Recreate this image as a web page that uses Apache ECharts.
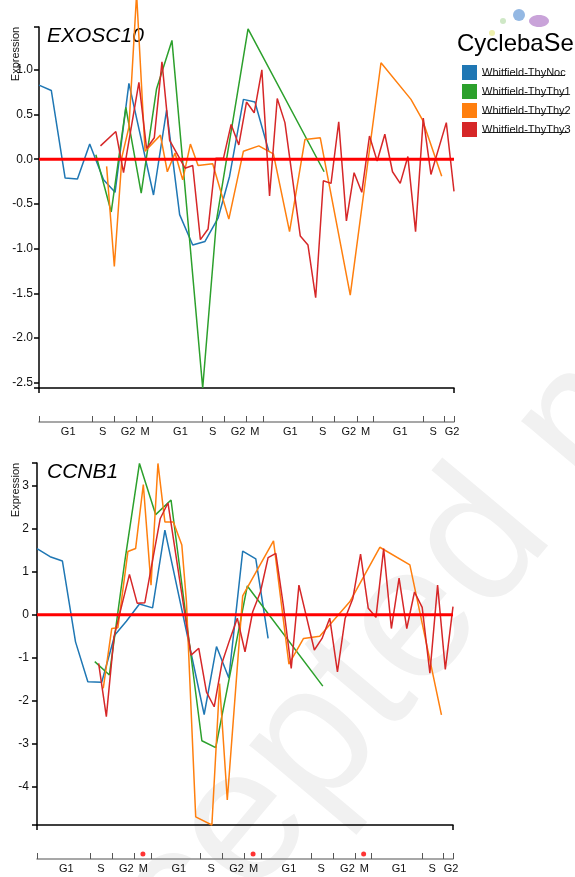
<!DOCTYPE html>
<html>
<head>
<meta charset="utf-8">
<title>Cyclebase - EXOSC10 / CCNB1</title>
<script src="https://cdn.jsdelivr.net/npm/echarts@6.0.0/dist/echarts.min.js"></script>
<style>
  html, body { margin: 0; padding: 0; background: #fff; }
  #chart { width: 575px; height: 877px; }
</style>
</head>
<body>
<div id="chart"></div>
<script>
  // series names and colours
  var seriesNames = ['Whitfield-ThyNoc', 'Whitfield-ThyThy1', 'Whitfield-ThyThy2', 'Whitfield-ThyThy3'];
  var seriesColors = ['#1f77b4', '#2ca02c', '#ff7f0e', '#d62728'];

  // time axis (hours) and cell-cycle phases
  var timeMax = 54;
  var phaseBounds = [0, 6.9, 9.75, 12.65, 14.8, 21.25, 24.05, 26.95, 29.15, 35.6, 38.4, 41.35, 43.45, 49.95, 52.75, 54];
  var phaseLabelT = [3.8, 8.3, 11.6, 13.8, 18.4, 22.6, 25.9, 28.1, 32.7, 36.9, 40.3, 42.5, 47.0, 51.3, 53.75];
  var phaseNames = ['G1', 'S', 'G2', 'M', 'G1', 'S', 'G2', 'M', 'G1', 'S', 'G2', 'M', 'G1', 'S', 'G2'];
  var mitosisMarks = [13.75, 28.05, 42.4];

  // EXOSC10
  var exoMin = -2.56, exoMax = 1.48;
  var exoTicks = [-2.5, -2, -1.5, -1, -0.5, 0, 0.5, 1];
  var exoNocT = [0, 1.6, 3.4, 5.0, 6.6, 8.4, 9.9, 11.7, 14.9, 16.6, 18.3, 20.0, 21.6, 23.3, 24.8, 26.6, 28.1, 29.9];
  var exoNocV = [0.83, 0.77, -0.21, -0.22, 0.17, -0.23, -0.37, 0.85, -0.40, 0.55, -0.62, -0.96, -0.92, -0.66, -0.19, 0.67, 0.64, 0.09];
  var exoThy1T = [7.4, 9.4, 11.3, 13.3, 15.3, 17.3, 21.3, 23.1, 27.2, 37.1];
  var exoThy1V = [0.05, -0.59, 0.58, -0.38, 0.79, 1.33, -2.56, -0.68, 1.46, -0.14];
  var exoThy2T = [8.8, 9.8, 10.8, 11.7, 12.7, 13.8, 15.8, 16.7, 17.7, 18.7, 19.7, 20.7, 22.6, 24.7, 26.6, 28.6, 30.5, 32.6, 34.6, 36.6, 40.5, 44.5, 48.4, 49.9, 52.4];
  var exoThy2V = [-0.08, -1.20, 0.03, 0.36, 1.85, 0.09, 0.27, -0.14, 0.07, -0.23, 0.17, -0.07, -0.05, -0.67, 0.09, 0.15, 0.06, -0.81, 0.22, 0.24, -1.52, 1.08, 0.67, 0.44, -0.19];
  var exoThy3T = [8, 10, 11, 13, 14, 15, 16, 17, 19, 20, 21, 22, 23, 24, 25, 26, 27, 28, 29, 30, 31, 32, 34, 35, 36, 37, 38, 39, 40, 41, 42, 43, 44, 45, 46, 47, 48, 49, 50, 51, 53, 54];
  var exoThy3V = [0.15, 0.31, -0.15, 0.86, 0.12, 0.24, 1.09, 0.21, -0.10, -0.07, -0.90, -0.78, 0.01, 0.01, 0.39, 0.16, 0.64, 0.52, 1.00, -0.41, 0.68, 0.41, -0.86, -0.96, -1.55, -0.24, -0.27, 0.42, -0.69, -0.15, -0.37, 0.26, -0.02, 0.28, -0.14, -0.27, 0.03, -0.81, 0.46, -0.17, 0.41, -0.36];

  // CCNB1
  var ccnMin = -4.89, ccnMax = 3.53;
  var ccnTicks = [-4, -3, -2, -1, 0, 1, 2, 3];
  var ccnNocT = [0, 1.7, 3.3, 5.0, 6.6, 8.4, 10.1, 11.6, 13.3, 15.0, 16.6, 21.7, 23.3, 24.9, 26.7, 28.4, 30.0];
  var ccnNocV = [1.54, 1.35, 1.25, -0.63, -1.56, -1.57, -0.47, -0.15, 0.25, 0.16, 1.97, -2.32, -0.74, -1.47, 1.48, 1.30, -0.55];
  var ccnThy1T = [7.5, 9.4, 11.4, 13.3, 15.4, 17.4, 21.4, 23.2, 27.3, 37.1];
  var ccnThy1V = [-1.09, -1.40, 1.25, 3.52, 2.33, 2.67, -2.93, -3.09, 0.67, -1.66];
  var ccnThy2T = [8.6, 9.7, 10.5, 11.8, 12.8, 13.8, 14.8, 15.7, 16.6, 17.7, 18.8, 19.4, 20.6, 22.7, 23.7, 24.7, 26.7, 30.7, 32.7, 34.6, 36.7, 40.6, 44.5, 48.4, 52.5];
  var ccnThy2V = [-1.71, -0.32, -0.30, 1.47, 1.54, 3.03, 0.69, 3.52, 2.16, 2.16, 1.62, 0.30, -4.70, -4.89, -1.60, -4.31, 0.44, 1.72, -1.15, -0.55, -0.50, 0.30, 1.57, 1.16, -2.33];
  var ccnThy3T = [8, 9, 10, 12, 13, 14, 16, 17, 20, 21, 22, 23, 24, 25, 26, 27, 28, 29, 30, 31, 32, 33, 34, 36, 37, 38, 39, 40, 41, 42, 43, 44, 45, 46, 47, 48, 49, 50, 51, 52, 53, 54];
  var ccnThy3V = [-1.13, -2.37, -0.51, 0.94, 0.27, 0.28, 2.24, 2.60, -0.94, -0.78, -1.80, -2.14, -1.13, -0.59, -0.08, -0.86, 0.07, 0.53, 1.33, 1.43, 0.19, -1.25, 0.69, -0.82, -0.55, -0.08, -1.33, -0.08, 0.38, 1.41, 0.15, -0.06, 1.54, -0.32, 0.85, -0.32, 0.53, 0.17, -1.36, 0.69, -1.27, 0.19];

  var FONT = '"Liberation Sans", Arial, Helvetica, sans-serif';

  function pairs(t, v) {
    return t.map(function (x, i) { return [x, v[i]]; });
  }

  function dataLine(k, t, v, axisIdx) {
    return {
      name: seriesNames[k],
      type: 'line',
      xAxisIndex: axisIdx,
      yAxisIndex: axisIdx,
      data: pairs(t, v),
      symbol: 'none',
      clip: false,
      itemStyle: { color: seriesColors[k] },
      lineStyle: { color: seriesColors[k], width: 1.5 },
      z: 3
    };
  }

  function zeroLine(axisIdx) {
    return {
      name: 'zero',
      type: 'line',
      xAxisIndex: axisIdx,
      yAxisIndex: axisIdx,
      data: [[0, 0], [timeMax, 0]],
      symbol: 'none',
      silent: true,
      lineStyle: { color: '#ff0000', width: 3 },
      z: 4
    };
  }

  function mainX(gi) {
    return {
      type: 'value', gridIndex: gi, min: 0, max: timeMax,
      axisLine: { onZero: false, lineStyle: { color: '#000', width: 1.5 } },
      axisTick: { show: true, customValues: [0, timeMax], length: 5, lineStyle: { color: '#000', width: 1.5 } },
      axisLabel: { show: false },
      splitLine: { show: false }
    };
  }

  function phaseX(gi) {
    return {
      type: 'value', gridIndex: gi, min: 0, max: timeMax,
      axisLine: { onZero: false, lineStyle: { color: '#8a8a8a', width: 1.5 } },
      axisTick: { show: true, customValues: phaseBounds, inside: true, length: 6, lineStyle: { color: '#555', width: 1 } },
      axisLabel: {
        customValues: phaseLabelT,
        margin: 4,
        fontSize: 11,
        fontFamily: FONT,
        color: '#111',
        formatter: function (v, i) {
          var k = phaseLabelT.indexOf(v);
          return phaseNames[k >= 0 ? k : i];
        }
      },
      splitLine: { show: false }
    };
  }

  function mainY(gi, lo, hi, ticks, digits, margin) {
    return {
      type: 'value', gridIndex: gi, min: lo, max: hi,
      axisLine: { show: true, onZero: false, lineStyle: { color: '#000', width: 1.5 } },
      axisTick: { show: true, customValues: [lo].concat(ticks, [hi]), length: 5, lineStyle: { color: '#000', width: 1.5 } },
      axisLabel: {
        customValues: ticks,
        margin: margin,
        fontSize: 12,
        fontFamily: FONT,
        color: '#111',
        formatter: function (v) { return v.toFixed(digits); }
      },
      splitLine: { show: false }
    };
  }

  function phaseY(gi) {
    return { type: 'value', gridIndex: gi, min: 0, max: 10, show: false };
  }

  // underline under each legend entry (the legend labels are links)
  var legendTextW = [83, 86, 86, 86];
  var underlines = legendTextW.map(function (w, i) {
    var y = 75.5 + i * 19;
    return {
      type: 'line', silent: true,
      shape: { x1: 482, y1: y, x2: 482 + w, y2: y },
      style: { stroke: '#222', lineWidth: 1 }
    };
  });

  var myChart = echarts.init(document.getElementById('chart'), null, { renderer: 'canvas' });

  myChart.setOption({
    animation: false,
    backgroundColor: '#fff',
    grid: [
      { left: 39, top: 27, width: 415, height: 361 },
      { left: 39, top: 412, width: 415, height: 10 },
      { left: 37, top: 463, width: 416, height: 362 },
      { left: 37, top: 849, width: 416, height: 10 }
    ],
    xAxis: [mainX(0), phaseX(1), mainX(2), phaseX(3)],
    yAxis: [
      mainY(0, exoMin, exoMax, exoTicks, 1, 6),
      phaseY(1),
      mainY(2, ccnMin, ccnMax, ccnTicks, 0, 8),
      phaseY(3)
    ],
    legend: {
      data: seriesNames,
      orient: 'vertical',
      left: 462,
      top: 65,
      padding: 0,
      itemWidth: 15,
      itemHeight: 15,
      itemGap: 4,
      icon: 'rect',
      selectedMode: false,
      textStyle: { fontSize: 11, fontFamily: FONT, color: '#111', padding: [0, 0, 6, 0] }
    },
    graphic: [
      {
        type: 'text', x: 20, y: 1093, rotation: 50 * Math.PI / 180, z: -10, silent: true,
        style: { text: 'accepted manuscript', fontSize: 190, fontFamily: FONT, fill: '#f1f1f1', textVerticalAlign: 'middle' }
      },
      { type: 'text', left: 47, top: 26, style: { text: 'EXOSC10', fontSize: 21, fontStyle: 'italic', fontFamily: FONT, fill: '#000' } },
      { type: 'text', left: 47, top: 462, style: { text: 'CCNB1', fontSize: 21, fontStyle: 'italic', fontFamily: FONT, fill: '#000' } },
      {
        type: 'text', x: 16, y: 54, rotation: Math.PI / 2,
        style: { text: 'Expression', fontSize: 11, fontFamily: FONT, fill: '#111', textAlign: 'center', textVerticalAlign: 'middle' }
      },
      {
        type: 'text', x: 16, y: 490, rotation: Math.PI / 2,
        style: { text: 'Expression', fontSize: 11, fontFamily: FONT, fill: '#111', textAlign: 'center', textVerticalAlign: 'middle' }
      },
      // Cyclebase logo
      { type: 'ellipse', shape: { cx: 539, cy: 21, rx: 10, ry: 6 }, style: { fill: '#c9a3d9' } },
      { type: 'circle', shape: { cx: 519, cy: 15, r: 6 }, style: { fill: '#94b8e3' } },
      { type: 'circle', shape: { cx: 503, cy: 21, r: 3 }, style: { fill: '#cfe8c6' } },
      { type: 'circle', shape: { cx: 492, cy: 33, r: 3 }, style: { fill: '#eef0ad' } },
      {
        type: 'text', left: 457, top: 32,
        style: {
          text: '{a|Cycleba}{s|S}{a|e}',
          rich: {
            a: { fontSize: 24, fontFamily: FONT, color: '#3d3d3d' },
            s: { fontSize: 25, fontFamily: FONT, color: '#f0b3ba' }
          }
        }
      }
    ].concat(underlines),
    series: [
      dataLine(0, exoNocT, exoNocV, 0),
      dataLine(1, exoThy1T, exoThy1V, 0),
      dataLine(2, exoThy2T, exoThy2V, 0),
      dataLine(3, exoThy3T, exoThy3V, 0),
      zeroLine(0),
      dataLine(0, ccnNocT, ccnNocV, 2),
      dataLine(1, ccnThy1T, ccnThy1V, 2),
      dataLine(2, ccnThy2T, ccnThy2V, 2),
      dataLine(3, ccnThy3T, ccnThy3V, 2),
      zeroLine(2),
      {
        name: 'M',
        type: 'scatter',
        xAxisIndex: 3,
        yAxisIndex: 3,
        data: mitosisMarks.map(function (t) { return [t, 5]; }),
        symbolSize: 5,
        itemStyle: { color: '#ff0000' },
        silent: true
      }
    ]
  });
</script>
</body>
</html>
